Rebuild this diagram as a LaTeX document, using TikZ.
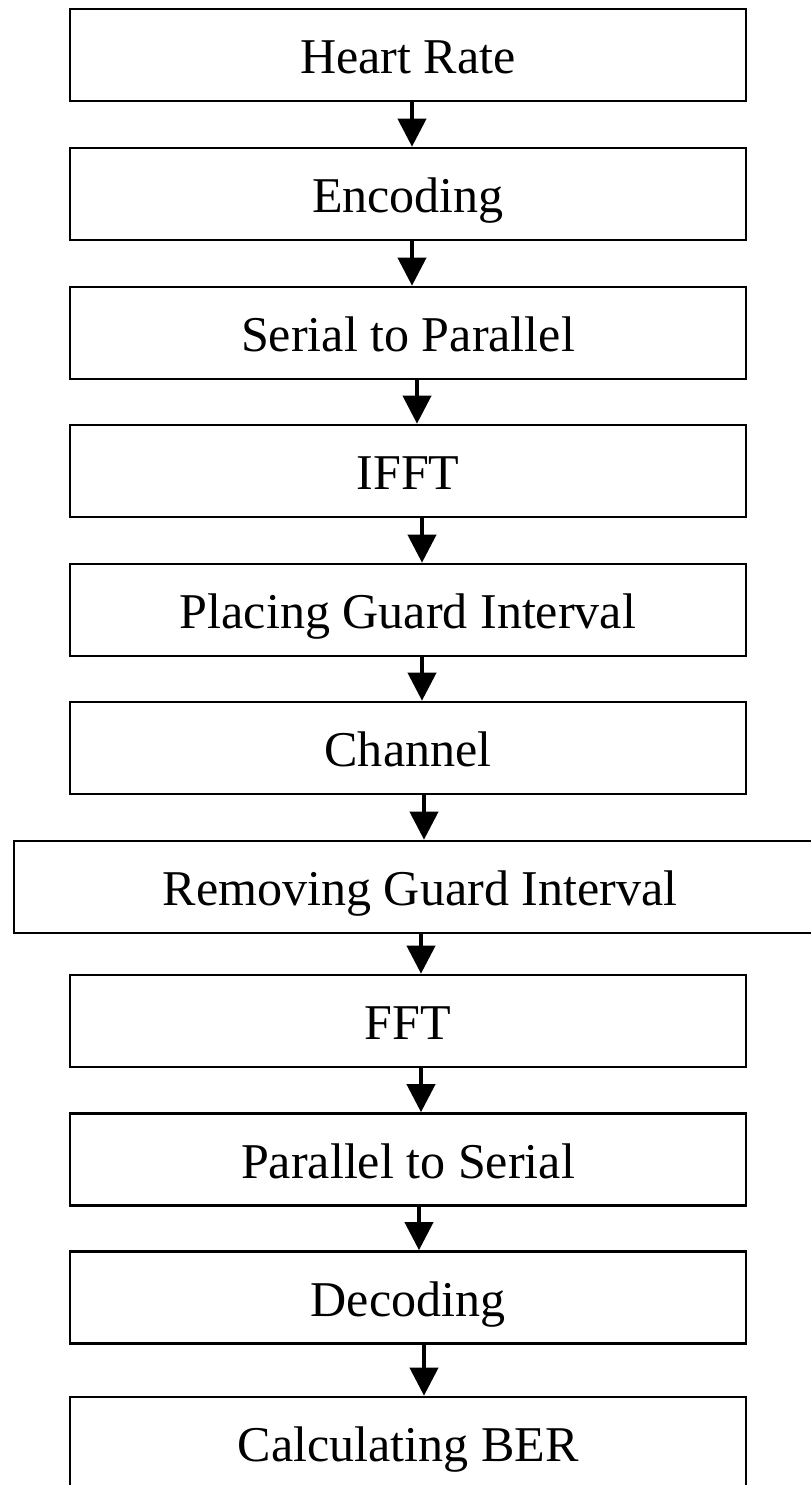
\documentclass[tikz,border=0pt]{standalone}
\usepackage{fontspec}
\setmainfont{Liberation Serif}
\usetikzlibrary{arrows.meta}
\tikzset{>={Triangle[width=0.56cm,length=0.56cm]}}
\tikzset{block/.style={draw, line width=1.5pt, rectangle, minimum width=676*0.02cm, minimum height=92*0.02cm, text height=21.6pt, text depth=0pt, font=\fontsize{28.5}{34}\selectfont}}
\tikzset{arr/.style={->, line width=2.3pt}}

\begin{document}
\begin{tikzpicture}[x=0.02cm, y=-0.02cm]
\clip (0,0) rectangle (811,1485);
\fill[white] (0,0) rectangle (811,1485);
\node[block] (hr)   at (408,55)     {Heart Rate};
\node[block] (enc)  at (408,194)    {Encoding};
\node[block] (sp)   at (408,333)    {Serial to Parallel};
\node[block] (ifft) at (408,471)    {IFFT};
\node[block] (pgi)  at (408,610)    {Placing Guard Interval};
\node[block] (ch)   at (408,748)    {Channel};
\node[block, minimum width=812*0.02cm] (rgi) at (420,887) {Removing Guard Interval};
\node[block] (fft)  at (408,1021)   {FFT};
\node[block] (ps)   at (408,1159.5) {Parallel to Serial};
\node[block] (dec)  at (408,1297.5) {Decoding};
\node[block] (ber)  at (408,1443)   {Calculating BER};
\foreach \a/\b/\dx in {hr/enc/4, enc/sp/4, sp/ifft/9, ifft/pgi/14, pgi/ch/14, ch/rgi/16, rgi/fft/1, fft/ps/13, ps/dec/11, dec/ber/16}
  \draw[arr] ([xshift=\dx*0.02cm]\a.south) -- ([xshift=\dx*0.02cm]\a.south |- \b.north);
\end{tikzpicture}
\end{document}
